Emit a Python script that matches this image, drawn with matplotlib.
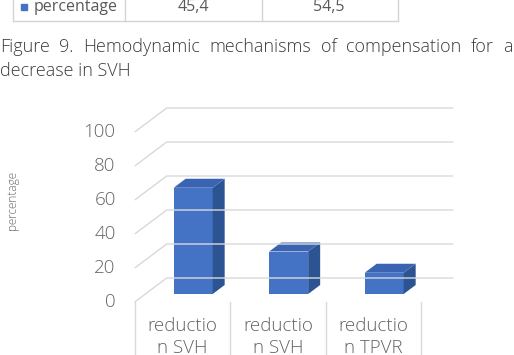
import matplotlib
matplotlib.use("Agg")
import matplotlib.pyplot as plt
from matplotlib.patches import Polygon, Rectangle

plt.rcParams["font.family"] = ["Open Sans", "DejaVu Sans"]

# data
categories = ["reductio\nn SVH", "reductio\nn SVH", "reductio\nn TPVR"]
values = [62.5, 25.0, 12.5]
y_ticks = [0, 20, 40, 60, 80, 100]
table_label = "percentage"
table_values = ["45,4", "54,5"]
caption_1 = "Figure 9. Hemodynamic mechanisms of compensation for a"
caption_2 = "decrease in SVH"
y_label = "percentage"

W, H = 514, 355
TXT = "#636363"
GRID = "#d9d9d9"
FRONT, TOP, SIDE = "#4472c4", "#3a64b2", "#2c5493"
LIGHT = 300

# pseudo 3d geometry (category units / value units)
X0, SX = 182.5, 95.5      # px of category 0, px per category
Y0, SY = 302.0, 1.7       # px of value 0, px per value unit
DX, DY = 32 / SX, 24 / SY  # full floor depth
D0, D1 = 1 / 3, 1 / 3 + 0.375
BW = 39 / SX

fig = plt.figure(figsize=(W / 100, H / 100), dpi=100)
fig.patch.set_facecolor("white")

# layout axes in pixels for the page bits (table, caption)
lay = fig.add_axes([0, 0, 1, 1])
lay.set_xlim(0, W)
lay.set_ylim(H, 0)
lay.axis("off")

# chart axes in data units
ax = fig.add_axes([0, 0, 1, 1])
ax.set_xlim(-X0 / SX, (W - X0) / SX)
ax.set_ylim((Y0 - H) / SY, Y0 / SY)
ax.axis("off")
ax.patch.set_alpha(0)

# --- table fragment at the top
for x in [13, 125, 262, 398]:
    lay.plot([x, x], [0, 21], color="#d4d4d4", lw=1)
lay.plot([13, 398], [21, 21], color="#d4d4d4", lw=1)
lay.add_patch(Rectangle((21, 3.5), 6, 6.5, color=FRONT))
lay.text(34, 11, table_label, fontsize=11.5, color="#595959", va="baseline", ha="left")
lay.text(193, 11, table_values[0], fontsize=11.5, color="#595959", va="baseline", ha="center")
lay.text(329, 11, table_values[1], fontsize=11.5, color="#595959", va="baseline", ha="center")

# --- caption, first line justified
words = caption_1.split(" ")
tw = [lay.text(0, 52.5, w, fontsize=13, weight=LIGHT, color="#3c3c3c",
               va="baseline", ha="left") for w in words]
r = fig.canvas.get_renderer()
widths = [t.get_window_extent(r).width for t in tw]
gap = (513 - sum(widths)) / (len(words) - 1)
x = 0
for t, w in zip(tw, widths):
    t.set_x(x)
    x += w + gap
lay.text(0, 76, caption_2, fontsize=13, weight=LIGHT, color="#3c3c3c",
         va="baseline", ha="left")

# --- gridlines: side wall diagonals + back wall
left, right = -0.5, len(categories) - 0.5
for v in y_ticks:
    ax.plot([left, left + DX, right + DX], [v, v + DY, v + DY],
            color=GRID, lw=1, solid_capstyle="butt")
    ax.text(left - 0.2, v, str(v), ha="right", va="center",
            fontsize=13.5, weight=LIGHT, color=TXT)

# category separators and labels
ax_bottom = ax.get_ylim()[0]
for i in range(len(categories) + 1):
    ax.plot([left + i, left + i], [0, ax_bottom], color=GRID, lw=1)
for i, lab in enumerate(categories):
    ax.text(i, -20.6, lab, ha="center", va="center", fontsize=13.5,
            weight=LIGHT, color=TXT, linespacing=1.22)

# --- bars
for i, v in enumerate(values):
    xl = i + D0 * DX - BW / 2
    xr = xl + BW
    yb = D0 * DY
    ox, oy = (D1 - D0) * DX, (D1 - D0) * DY
    ax.bar(i + D0 * DX, v, width=BW, bottom=yb, color=FRONT, lw=0)
    ax.add_patch(Polygon([(xr, yb), (xr + ox, yb + oy), (xr + ox, yb + oy + v),
                          (xr, yb + v)], closed=True, color=SIDE, lw=0))
    ax.add_patch(Polygon([(xl, yb + v), (xr, yb + v), (xr + ox, yb + oy + v),
                          (xl + ox, yb + oy + v)], closed=True, color=TOP, lw=0))

ax.text((12 - X0) / SX, (Y0 - 200) / SY, y_label, rotation=90, ha="center",
        va="center", fontsize=8.5, weight=LIGHT, color=TXT)

fig.savefig("out.png", dpi=100, facecolor="white")
